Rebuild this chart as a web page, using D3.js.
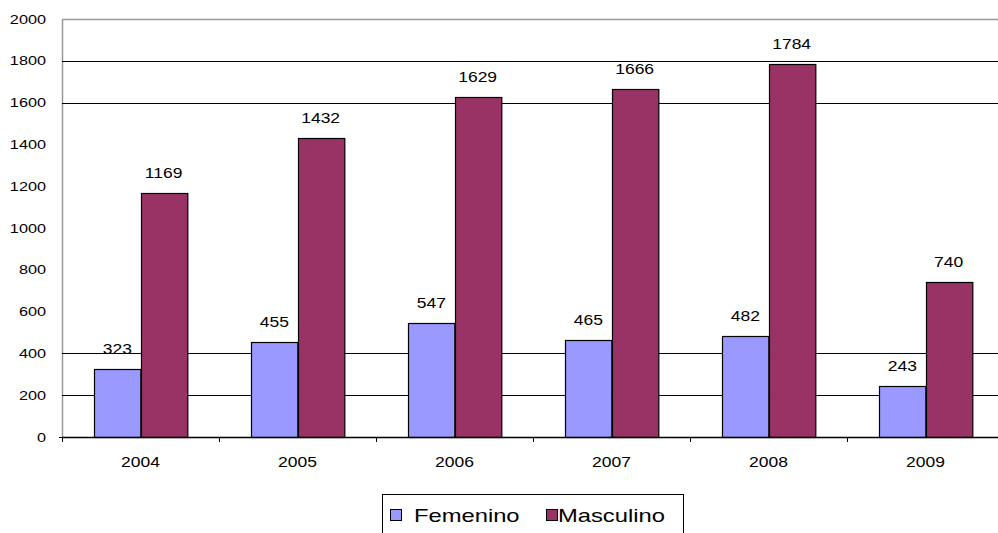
<!DOCTYPE html>
<html>
<head>
<meta charset="utf-8">
<script src="https://cdn.jsdelivr.net/npm/d3@7"></script>
<style>
  html, body { margin: 0; padding: 0; background: #fff; }
  svg { display: block; }
  text { font-family: "Liberation Sans", Arial, sans-serif; fill: #000; }
</style>
</head>
<body>
<svg id="chart" width="998" height="533"></svg>
<script>
// Data
const years = ["2004", "2005", "2006", "2007", "2008", "2009"];
const seriesNames = ["Femenino", "Masculino"];
const femenino = [323, 455, 547, 465, 482, 243];
const masculino = [1169, 1432, 1629, 1666, 1784, 740];
const yTicks = [0, 200, 400, 600, 800, 1000, 1200, 1400, 1600, 1800, 2000];
const gridValues = [200, 400, 1600, 1800];
const colors = ["#9999FF", "#993366"];

const rows = years.map((yr, i) => ({ year: yr, values: [femenino[i], masculino[i]] }));

const svg = d3.select("#chart");
const plotLeft = 62, plotRight = 1004, plotTop = 19, plotBottom = 437;
const sx = 1.25; // horizontal text stretch

const y = d3.scaleLinear().domain([0, 2000]).range([plotBottom, plotTop]);
const x0 = d3.scaleBand().domain(years).range([plotLeft, plotRight]).padding(0);
const step = x0.bandwidth();
const x1 = d3.scaleBand().domain(seriesNames).range([step * 0.205, step * 0.795]).padding(0);

// Plot frame (top and left, grey)
svg.append("line").attr("x1", plotLeft + 0.5).attr("x2", plotRight).attr("y1", plotTop + 0.5).attr("y2", plotTop + 0.5)
  .attr("stroke", "#999").attr("stroke-width", 1.5);
svg.append("line").attr("x1", plotLeft + 0.5).attr("x2", plotLeft + 0.5).attr("y1", plotTop).attr("y2", plotBottom)
  .attr("stroke", "#999").attr("stroke-width", 1.5);

// Horizontal gridlines
svg.append("g").selectAll("line").data(gridValues).join("line")
  .attr("x1", plotLeft).attr("x2", plotRight)
  .attr("y1", d => Math.round(y(d)) + 0.5).attr("y2", d => Math.round(y(d)) + 0.5)
  .attr("stroke", "#000").attr("stroke-width", 1.2);

// Y tick labels
svg.append("g").selectAll("text").data(yTicks).join("text")
  .attr("transform", d => `translate(46,${y(d) + 4.5}) scale(${sx},1)`)
  .attr("text-anchor", "end")
  .style("font-size", "13px")
  .text(d => d);
svg.append("line").attr("x1", plotLeft - 3).attr("x2", plotLeft).attr("y1", plotBottom + 0.5).attr("y2", plotBottom + 0.5)
  .attr("stroke", "#000");

// Bars
const groups = svg.append("g").selectAll("g").data(rows).join("g")
  .attr("transform", d => `translate(${x0(d.year)},0)`);

groups.selectAll("rect").data(d => d.values.map((v, i) => ({ name: seriesNames[i], v, i }))).join("rect")
  .attr("x", d => Math.round(x1(d.name)) + 0.5)
  .attr("width", x1.bandwidth())
  .attr("y", d => Math.round(y(d.v)) + 0.5)
  .attr("height", d => plotBottom - Math.round(y(d.v)))
  .attr("fill", d => colors[d.i])
  .attr("stroke", "#000")
  .attr("stroke-width", 1.2);

groups.selectAll("text").data(d => d.values.map((v, i) => ({ name: seriesNames[i], v, i }))).join("text")
  .attr("transform", d => `translate(${x1(d.name) + x1.bandwidth() / 2},${y(d.v) - 15}) scale(${sx},1)`)
  .attr("text-anchor", "middle")
  .style("font-size", "14px")
  .text(d => d.v);

// X axis
const xAxis = svg.append("g");
xAxis.append("line").attr("x1", plotLeft).attr("x2", plotRight).attr("y1", plotBottom + 0.5).attr("y2", plotBottom + 0.5)
  .attr("stroke", "#000").attr("stroke-width", 1.5);
xAxis.selectAll("line.tick").data(years.concat(["end"])).join("line")
  .attr("class", "tick")
  .attr("x1", (d, i) => plotLeft + i * step + 0.5).attr("x2", (d, i) => plotLeft + i * step + 0.5)
  .attr("y1", plotBottom).attr("y2", plotBottom + 5)
  .attr("stroke", "#000");
xAxis.selectAll("text").data(years).join("text")
  .attr("transform", d => `translate(${x0(d) + step / 2},467) scale(${sx},1)`)
  .attr("text-anchor", "middle")
  .style("font-size", "14px")
  .text(d => d);

// Legend
const legend = svg.append("g");
legend.append("rect").attr("x", 382.5).attr("y", 494.5).attr("width", 301).attr("height", 50)
  .attr("fill", "#fff").attr("stroke", "#000").attr("stroke-width", 1);
const legendX = [390, 546];
const legendTextX = [414, 558];
seriesNames.forEach((name, i) => {
  legend.append("rect").attr("x", legendX[i] + 0.5).attr("y", 509.5).attr("width", 11).attr("height", 11)
    .attr("fill", colors[i]).attr("stroke", "#000").attr("stroke-width", 1);
  legend.append("text")
    .attr("transform", `translate(${legendTextX[i]},522) scale(${sx},1)`)
    .style("font-size", "19px")
    .text(name);
});
</script>
</body>
</html>
